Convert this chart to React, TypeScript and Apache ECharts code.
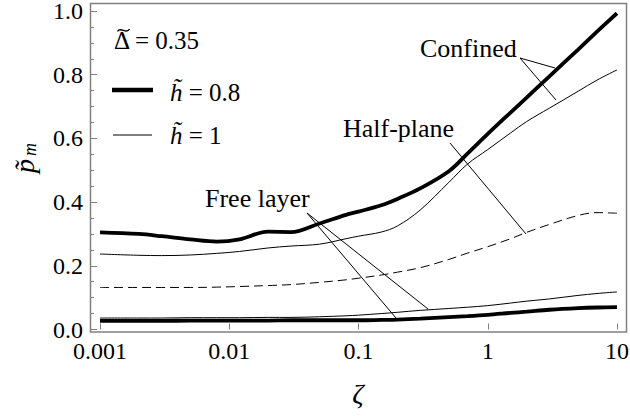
import React, { useEffect, useRef } from "react";
import * as echarts from "echarts";

const zeta = [0.001, 0.002, 0.003, 0.005, 0.008, 0.012, 0.02, 0.03, 0.05, 0.08, 0.1, 0.15, 0.2, 0.3, 0.5, 0.7, 1, 1.5, 2, 3, 5, 7, 10];
const confinedH08 = [0.305, 0.3, 0.293, 0.283, 0.276, 0.283, 0.307, 0.306, 0.333, 0.36, 0.37, 0.39, 0.41, 0.443, 0.497, 0.553, 0.614, 0.681, 0.728, 0.795, 0.879, 0.935, 0.993];
const confinedH1 = [0.237, 0.233, 0.232, 0.234, 0.239, 0.245, 0.256, 0.262, 0.268, 0.285, 0.293, 0.306, 0.325, 0.375, 0.462, 0.52, 0.565, 0.617, 0.653, 0.695, 0.748, 0.783, 0.815];
const halfPlane = [0.132, 0.132, 0.132, 0.132, 0.133, 0.135, 0.138, 0.141, 0.148, 0.156, 0.161, 0.171, 0.18, 0.194, 0.22, 0.24, 0.26, 0.285, 0.305, 0.33, 0.358, 0.367, 0.365];
const freeH1 = [0.036, 0.036, 0.036, 0.037, 0.037, 0.037, 0.038, 0.038, 0.04, 0.043, 0.045, 0.05, 0.054, 0.06, 0.066, 0.07, 0.075, 0.083, 0.089, 0.096, 0.107, 0.113, 0.118];
const freeH08 = [0.027, 0.027, 0.027, 0.028, 0.028, 0.028, 0.028, 0.029, 0.029, 0.029, 0.029, 0.03, 0.031, 0.034, 0.039, 0.042, 0.046, 0.052, 0.056, 0.062, 0.067, 0.069, 0.07];
const xTickLabels = ["0.001", "0.01", "0.1", "1", "10"];
const yTickLabels = ["0.0", "0.2", "0.4", "0.6", "0.8", "1.0"];

const FONT = "Liberation Serif";

function pairs(ys: number[]) {
  return zeta.map((z, i) => [z, ys[i]]);
}

export default function App() {
  const ref = useRef<HTMLDivElement>(null);
  useEffect(() => {
    if (!ref.current) return;
    const chart = echarts.init(ref.current, null, { renderer: "svg" });
    const line = (name: string, ys: number[], width: number, dashed = false, z = 2) => ({
      name,
      type: "line",
      data: pairs(ys),
      smooth: 0.35,
      showSymbol: false,
      symbol: "none",
      z,
      lineStyle: { color: "#000", width, type: dashed ? [9, 5] : "solid" },
    });
    const txt = (x: number, y: number, text: string, size: number, extra: any = {}) => ({
      type: "text",
      x,
      y,
      style: { text, fontFamily: FONT, fontSize: size, fill: "#000", textAlign: "left", textVerticalAlign: "middle", ...extra },
    });
    const seg = (x1: number, y1: number, x2: number, y2: number, w = 1) => ({
      type: "line",
      shape: { x1, y1, x2, y2 },
      style: { stroke: "#000", lineWidth: w },
    });
    const richLegend = (y: number, value: string) => ({
      type: "text",
      x: 170,
      y,
      style: {
        rich: {
          i: { fontFamily: FONT, fontStyle: "italic", fontSize: 25, fill: "#000" },
          n: { fontFamily: FONT, fontSize: 25, fill: "#000" },
        },
        text: "{i|h\u0303}{n| = " + value + "}",
        textVerticalAlign: "middle",
      },
    });
    chart.setOption({
      animation: false,
      backgroundColor: "#fff",
      grid: { left: 100, right: 13, top: 11, bottom: 86.5, outerBoundsMode: "none", containLabel: false },
      xAxis: {
        type: "log",
        logBase: 10,
        min: 0.001,
        max: 10,
        offset: 2.5,
        axisLine: { show: false },
        axisTick: { show: true, inside: true, length: 6, lineStyle: { color: "#808080", width: 1 } },
        splitLine: { show: false },
        axisLabel: {
          margin: 9,
          fontSize: 24,
          lineHeight: 20,
          fontFamily: FONT,
          color: "#000",
          formatter: (v: number) => xTickLabels[Math.round(Math.log10(v)) + 3] ?? "",
        },
      },
      yAxis: {
        type: "value",
        min: 0,
        max: 1,
        interval: 0.2,
        offset: 10,
        axisLine: { show: false },
        axisTick: { show: true, inside: true, length: 7, lineStyle: { color: "#808080", width: 1 } },
        minorTick: { show: true, splitNumber: 4, length: 4, lineStyle: { color: "#808080", width: 1 } },
        splitLine: { show: false },
        minorSplitLine: { show: false },
        axisLabel: {
          margin: 7,
          fontSize: 24,
          lineHeight: 18,
          fontFamily: FONT,
          color: "#000",
          formatter: (v: number) => yTickLabels[Math.round(v / 0.2)] ?? "",
        },
      },
      series: [
        line("Half-plane", halfPlane, 1, true, 2),
        line("Confined h=1", confinedH1, 1, false, 3),
        line("Free layer h=1", freeH1, 1, false, 3),
        line("Confined h=0.8", confinedH08, 3.8, false, 4),
        line("Free layer h=0.8", freeH08, 3.8, false, 4),
      ],
      graphic: [
        {
          type: "rect",
          shape: { x: 90.5, y: 3.5, width: 536, height: 328.5 },
          style: { fill: "none", stroke: "#808080", lineWidth: 1.5 },
          z: 10,
        },
        txt(114, 40, "\u0394 = 0.35", 25),
        {
          type: "bezierCurve",
          shape: { x1: 117.5, y1: 31.5, cpx1: 120.5, cpy1: 26, cpx2: 126.5, cpy2: 35, x2: 129.5, y2: 29 },
          style: { stroke: "#000", lineWidth: 1.4, fill: "none" },
        },
        seg(112, 90, 153, 90, 4.5),
        seg(113, 135, 152, 135, 1),
        richLegend(92, "0.8"),
        richLegend(135, "1"),
        txt(420, 48, "Confined", 26),
        seg(520, 58, 555, 68),
        seg(520, 58, 556, 100),
        txt(343, 128, "Half-plane", 26),
        seg(450, 143, 526, 234),
        txt(205, 198, "Free layer", 26),
        seg(307, 213, 396, 318),
        seg(307, 213, 428, 309),
        txt(358, 393, "\u03B6", 28, { fontStyle: "italic", textAlign: "center" }),
        {
          type: "group",
          x: 24,
          y: 160,
          rotation: Math.PI / 2,
          children: [
            {
              type: "text",
              x: -6,
              y: 0,
              style: { text: "p\u0303", fontFamily: FONT, fontStyle: "italic", fontSize: 28, fill: "#000", textAlign: "center", textVerticalAlign: "middle" },
            },
            {
              type: "text",
              x: 4,
              y: 6,
              style: { text: "m", fontFamily: FONT, fontStyle: "italic", fontSize: 18, fill: "#000", textAlign: "left", textVerticalAlign: "middle" },
            },
          ],
        },
      ],
    });
    return () => chart.dispose();
  }, []);
  return <div ref={ref} style={{ position: "fixed", left: 0, top: 0, width: 630, height: 416 }} />;
}
